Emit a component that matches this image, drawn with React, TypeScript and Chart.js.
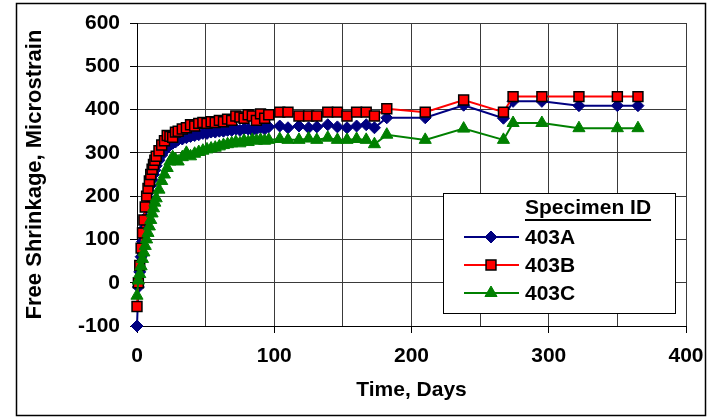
import React, { useEffect, useRef } from "react";
import { Chart, registerables } from "chart.js";

Chart.register(...registerables);

const days = [
  0, 1, 2, 3, 4, 5, 6, 7, 8, 9, 10, 11, 12, 13, 14, 16, 18, 20, 22, 24, 26, 28, 30, 33, 36, 39, 42, 45, 48, 51,
  54, 57, 60, 63, 66, 69, 72, 75, 78, 81, 84, 87, 90, 93, 96, 104, 110, 118, 125, 131, 139, 146, 153, 160, 167,
  173, 182, 210, 238, 267, 274, 295, 322, 350, 365,
];

const s403A = [
  -100, -10, 25, 60, 95, 125, 150, 175, 195, 210, 225, 238, 250, 260, 270, 283, 295, 305, 312, 318, 322, 325, 330,
  332, 335, 338, 340, 342, 345, 345, 348, 348, 350, 350, 352, 352, 355, 352, 355, 355, 352, 355, 358, 355, 360,
  362, 358, 362, 358, 360, 365, 360, 358, 362, 365, 358, 381, 381, 410, 380, 419, 419, 409, 409, 409,
];

const s403B = [
  -55, 0, 40, 80, 115, 145, 175, 200, 218, 235, 250, 262, 273, 283, 292, 305, 318, 328, 340, 338, 336, 348, 350,
  355, 358, 365, 362, 368, 370, 368, 372, 370, 375, 372, 378, 375, 385, 383, 380, 388, 385, 375, 390, 380, 388,
  394, 394, 385, 385, 385, 394, 394, 385, 394, 394, 385, 402, 394, 422, 394, 430, 430, 430, 430, 430,
];

const s403C = [
  -30, 5, 20, 38, 55, 70, 85, 100, 115, 130, 145, 160, 172, 185, 195, 215, 235, 250, 265, 280, 290, 285, 280, 290,
  300, 292, 298, 302, 305, 308, 310, 312, 315, 318, 320, 322, 325, 322, 328, 325, 330, 328, 330, 328, 330, 332,
  330, 330, 333, 330, 335, 330, 330, 332, 330, 320, 342, 330, 356, 330, 369, 369, 357, 357, 357,
];

const seriesNames = ["403A", "403B", "403C"];
const legendTitle = "Specimen ID";
const xTitle = "Time, Days";
const yTitle = "Free Shrinkage, Microstrain";

const FONT = "'Liberation Sans', Arial, sans-serif";

function toPoints(vals: number[]) {
  return days.map((d, i) => ({ x: d, y: vals[i] }));
}

function drawMarker(ctx: CanvasRenderingContext2D, style: string, x: number, y: number, r: number, fill: string, stroke: string, bw: number) {
  ctx.beginPath();
  if (style === "rectRot") {
    ctx.moveTo(x, y - r);
    ctx.lineTo(x + r, y);
    ctx.lineTo(x, y + r);
    ctx.lineTo(x - r, y);
    ctx.closePath();
  } else if (style === "rect") {
    const s = r * Math.SQRT1_2;
    ctx.rect(x - s, y - s, 2 * s, 2 * s);
  } else {
    ctx.moveTo(x, y - r);
    ctx.lineTo(x + r * Math.sin(Math.PI / 3), y + r * 0.5);
    ctx.lineTo(x - r * Math.sin(Math.PI / 3), y + r * 0.5);
    ctx.closePath();
  }
  ctx.fillStyle = fill;
  ctx.fill();
  ctx.lineWidth = bw;
  ctx.strokeStyle = stroke;
  ctx.stroke();
}

export default function App() {
  const ref = useRef<HTMLCanvasElement | null>(null);

  useEffect(() => {
    document.body.style.margin = "0";
    const canvas = ref.current;
    if (!canvas) return;

    const styles = [
      { style: "rectRot", r: 6, fill: "#000080", stroke: "#000080", bw: 1, line: "#000080" },
      { style: "rect", r: 7, fill: "#FF0000", stroke: "#000000", bw: 1.5, line: "#FF0000" },
      { style: "triangle", r: 7, fill: "#008000", stroke: "#008000", bw: 1, line: "#008000" },
    ];
    const allSeries = [s403A, s403B, s403C];

    const decor = {
      id: "decor",
      afterDraw(chart: any) {
        const ctx = chart.ctx as CanvasRenderingContext2D;
        ctx.save();
        // outer border
        ctx.strokeStyle = "#000";
        ctx.lineWidth = 1.5;
        ctx.strokeRect(16.5, 3.5, 689, 412);
        // legend box
        ctx.fillStyle = "#fff";
        ctx.fillRect(443, 193, 232, 120);
        ctx.lineWidth = 1;
        ctx.strokeRect(443.5, 193.5, 232, 120);
        ctx.fillStyle = "#000";
        ctx.font = `bold 21px ${FONT}`;
        ctx.textBaseline = "alphabetic";
        ctx.textAlign = "left";
        ctx.fillText(legendTitle, 525, 214);
        const w = ctx.measureText(legendTitle).width;
        ctx.fillRect(525, 219, w, 2);
        seriesNames.forEach((name, i) => {
          const st = styles[i];
          const y = 237 + 28 * i;
          ctx.strokeStyle = st.line;
          ctx.lineWidth = 2;
          ctx.beginPath();
          ctx.moveTo(464, y);
          ctx.lineTo(519, y);
          ctx.stroke();
          drawMarker(ctx, st.style, 491, y, st.r, st.fill, st.stroke, st.bw);
          ctx.fillStyle = "#000";
          ctx.textBaseline = "middle";
          ctx.fillText(name, 525, y + 1);
        });
        ctx.restore();
      },
    };

    const chart = new Chart(canvas, {
      type: "scatter",
      data: {
        datasets: allSeries.map((vals, i) => ({
          label: seriesNames[i],
          data: toPoints(vals),
          showLine: true,
          borderColor: styles[i].line,
          borderWidth: 2,
          pointStyle: styles[i].style as any,
          pointRadius: styles[i].r,
          pointBackgroundColor: styles[i].fill,
          pointBorderColor: styles[i].stroke,
          pointBorderWidth: styles[i].bw,
          tension: 0,
          clip: false as any,
          order: 3 - i,
        })),
      },
      options: {
        responsive: false,
        animation: false,
        events: [],
        layout: { padding: { top: 23, right: 24, left: 0, bottom: 0 } },
        plugins: {
          legend: { display: false },
          tooltip: { enabled: false },
        },
        scales: {
          x: {
            type: "linear",
            min: 0,
            max: 400,
            afterFit: (s: any) => {
              s.height = 93;
            },
            ticks: {
              stepSize: 50,
              autoSkip: false,
              maxRotation: 0,
              padding: 5,
              color: "#000",
              font: { family: FONT, size: 21, weight: "bold", lineHeight: 1.75 },
              callback: (v: any) => (Number(v) % 100 === 0 ? String(v) : ""),
            },
            grid: {
              color: "#3a3a3a",
              lineWidth: 1,
              tickLength: 7,
              tickColor: (c: any) => (c.tick && c.tick.value % 100 === 0 ? "#000" : "rgba(0,0,0,0)"),
            },
            border: { color: "#000", width: 1 },
            title: {
              display: true,
              text: xTitle,
              color: "#000",
              font: { family: FONT, size: 21, weight: "bold" },
              padding: { top: 0, bottom: 16 },
            },
          },
          y: {
            type: "linear",
            min: -100,
            max: 600,
            afterFit: (s: any) => {
              s.width = 137;
            },
            ticks: {
              stepSize: 100,
              padding: 10,
              color: "#000",
              font: { family: FONT, size: 21, weight: "bold" },
            },
            grid: {
              color: "#3a3a3a",
              lineWidth: 1,
              tickLength: 7,
              tickColor: "#000",
            },
            border: { color: "#000", width: 1 },
            title: {
              display: true,
              text: yTitle,
              color: "#000",
              font: { family: FONT, size: 22, weight: "bold" },
              padding: { top: 22, bottom: 0 },
            },
          },
        },
      },
      plugins: [decor],
    });

    return () => chart.destroy();
  }, []);

  return (
    <div style={{ width: 710, height: 419, position: "relative", background: "#fff" }}>
      <canvas ref={ref} width={710} height={419} />
    </div>
  );
}
